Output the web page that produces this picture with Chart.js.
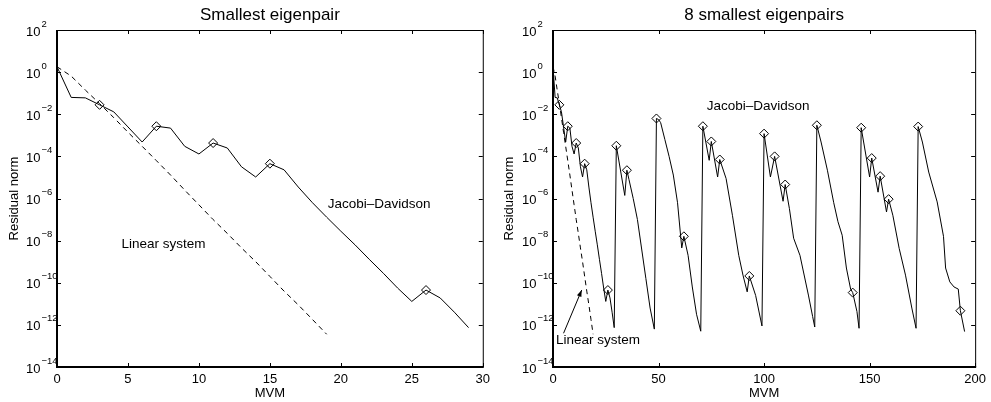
<!DOCTYPE html>
<html lang="en">
<head>
<meta charset="UTF-8">
<title>Residual norm vs MVM</title>
<style>
  body { margin: 0; background: #fff; }
  .panel { position: absolute; top: 0; height: 402px; }
  #left { left: 0; width: 495px; }
  #right { left: 495px; width: 496px; }
</style>
</head>
<body>
<div class="panel" id="left"><canvas id="c1" width="495" height="402"></canvas></div>
<div class="panel" id="right"><canvas id="c2" width="496" height="402"></canvas></div>

<script src="https://cdn.jsdelivr.net/npm/chart.js"></script>
<script>
// --- data ---
// first eigenpair, Jacobi-Davidson (MVM 0..29)
const mvmFirst = [0, 1, 2, 3, 4, 5, 6, 7, 8, 9, 10, 11, 12, 13, 14, 15, 16, 17, 18, 19,
                  20, 21, 22, 23, 24, 25, 26, 27, 28, 29];
const jdFirst = [1.8, 6.3e-2, 6.0e-2, 2.8e-2, 1.3e-2, 2.5e-3, 4.8e-4, 2.7e-3, 2.2e-3, 3.0e-4,
                 1.3e-4, 4.3e-4, 2.5e-4, 3.2e-5, 1.05e-5, 4.5e-5, 2.3e-5, 3.5e-6, 6.3e-7, 1.3e-7,
                 2.8e-8, 6.3e-9, 1.3e-9, 2.8e-10, 5.6e-11, 1.3e-11, 4.5e-11, 1.9e-11, 4.0e-12, 7.4e-13];
const firstMarkers = [3, 7, 11, 15, 26];

// linear system (dashed)
const mvmLinear = [0, 1, 2, 3, 4, 5, 6, 7, 8, 9, 10, 11, 12, 13, 14, 15, 16, 17, 18, 19];
const linearSystem = [1.8, 6.5e-1, 1.4e-1, 3.2e-2, 6.9e-3, 1.4e-3, 3.0e-4, 6.3e-5, 1.3e-5, 2.5e-6,
                      5.0e-7, 1.0e-7, 2.2e-8, 4.5e-9, 1.0e-9, 2.0e-10, 4.0e-11, 8.9e-12, 1.8e-12, 3.6e-13];

// remaining 7 eigenpairs (continues after MVM 29)
const mvmRest = [30, 34, 35, 36, 38, 40, 42, 44, 46, 48,
                 49, 50, 51, 53, 55, 57, 59, 61, 62, 64,
                 66, 68, 70, 71, 74, 75, 78, 79, 82, 85,
                 88, 90, 92, 93, 96, 99, 100, 103, 105, 109,
                 110, 112, 114, 117, 121, 123, 124, 125, 127, 130,
                 133, 135, 137, 139, 141, 142, 144, 145, 146, 150,
                 151, 154, 155, 158, 159, 161, 164, 167, 170, 172,
                 173, 175, 178, 182, 185, 186, 188, 190, 192, 193, 195];
const jdRest = [3.2e-4, 1.4e-6, 2.2e-5, 7.9e-6, 1.0e-6, 1.0e-7, 4.0e-9, 1.6e-10, 6.3e-12, 6.3e-13,
                6.3e-3, 5.6e-3, 4.0e-3, 6.3e-4, 1.0e-4, 1.3e-5, 6.3e-7, 4.5e-9, 1.6e-8, 2.0e-9,
                6.3e-11, 3.2e-12, 5.0e-13, 2.7e-3, 6.5e-5, 5.1e-4, 1.05e-5, 7.1e-5, 8.9e-6, 1.6e-7,
                2.0e-9, 2.3e-10, 3.7e-11, 2.1e-10, 2.5e-11, 8.9e-13, 1.2e-3, 1.05e-5, 1.0e-4, 7.4e-7,
                4.6e-6, 3.3e-7, 1.3e-8, 2.0e-9, 2.6e-11, 2.5e-12, 7.9e-13, 3.0e-3, 4.8e-4, 2.2e-5,
                6.3e-7, 7.9e-8, 1.8e-8, 5.0e-10, 5.0e-11, 3.4e-11, 4.3e-12, 6.9e-13, 2.3e-3, 1.05e-5,
                8.3e-5, 2.0e-6, 1.15e-5, 2.3e-7, 9.3e-7, 1.6e-7, 4.3e-9, 2.3e-10, 6.3e-12, 6.9e-13,
                2.6e-3, 4.8e-4, 1.8e-5, 6.9e-7, 1.6e-8, 5.0e-10, 1.1e-10, 6.3e-11, 5.0e-11, 4.7e-12, 4.8e-13];
const restMarkers = [30, 35, 49, 62, 71, 75, 79, 93, 100, 105, 110, 125, 142, 146, 151, 155, 159, 173, 193];

// axes
const yTickExp = [-14, -12, -10, -8, -6, -4, -2, 0, 2];
const xTicksLeft = [0, 5, 10, 15, 20, 25, 30];
const xTicksRight = [0, 50, 100, 150, 200];

const FONT = '"Liberation Sans", Arial, Helvetica, sans-serif';

function toPoints(xs, ys) {
    return xs.map((x, i) => ({x: x, y: ys[i]}));
}

// box, inward ticks, y labels with exponents, title and text notes
const framePlugin = {
    id: 'frame',
    afterDatasetsDraw(chart, args, o) {
        const {ctx, chartArea: a, scales: {x, y}} = chart;
        ctx.save();
        ctx.strokeStyle = '#000';
        ctx.fillStyle = '#000';

        ctx.lineWidth = 1;
        ctx.beginPath();
        ctx.moveTo(a.left, a.top + 0.5);
        ctx.lineTo(a.right + 0.5, a.top + 0.5);
        ctx.lineTo(a.right + 0.5, a.bottom);
        ctx.stroke();
        ctx.lineWidth = 2;
        ctx.beginPath();
        ctx.moveTo(a.left, a.top);
        ctx.lineTo(a.left, a.bottom);
        ctx.lineTo(a.right + 1, a.bottom);
        ctx.stroke();

        ctx.lineWidth = 1;
        ctx.beginPath();
        o.xTicks.forEach(v => {
            const px = Math.round(x.getPixelForValue(v)) + 0.5;
            ctx.moveTo(px, a.top); ctx.lineTo(px, a.top + 4);
            ctx.moveTo(px, a.bottom); ctx.lineTo(px, a.bottom - 4);
        });
        yTickExp.forEach(e => {
            const py = Math.round(y.getPixelForValue(Math.pow(10, e))) + 0.5;
            ctx.moveTo(a.left, py); ctx.lineTo(a.left + 4, py);
            ctx.moveTo(a.right, py); ctx.lineTo(a.right - 4, py);
        });
        ctx.stroke();

        // y tick labels: 10 with raised exponent
        ctx.textBaseline = 'alphabetic';
        ctx.textAlign = 'left';
        yTickExp.forEach(e => {
            const py = y.getPixelForValue(Math.pow(10, e));
            const x0 = a.left - 31;
            ctx.font = '13px ' + FONT;
            ctx.fillText('10', x0, py + 5.5);
            const w = ctx.measureText('10').width;
            ctx.font = '9.5px ' + FONT;
            ctx.fillText(String(e).replace('-', '\u2212'), x0 + w + 1, py - 3.5);
        });

        // title
        ctx.font = '17px ' + FONT;
        ctx.textAlign = 'center';
        ctx.fillText(o.title, (a.left + a.right) / 2, 20);

        // notes inside the plot
        ctx.font = '13.5px ' + FONT;
        ctx.textBaseline = 'middle';
        o.notes.forEach(n => {
            ctx.fillText(n.text, x.getPixelForValue(n.x), y.getPixelForValue(n.y));
        });

        if (o.arrow) {
            const x1 = x.getPixelForValue(o.arrow.from[0]), y1 = y.getPixelForValue(o.arrow.from[1]);
            const x2 = x.getPixelForValue(o.arrow.to[0]), y2 = y.getPixelForValue(o.arrow.to[1]);
            const ang = Math.atan2(y2 - y1, x2 - x1);
            ctx.beginPath();
            ctx.moveTo(x1, y1);
            ctx.lineTo(x2, y2);
            ctx.stroke();
            ctx.beginPath();
            ctx.moveTo(x2, y2);
            ctx.lineTo(x2 - 7 * Math.cos(ang - 0.35), y2 - 7 * Math.sin(ang - 0.35));
            ctx.lineTo(x2 - 7 * Math.cos(ang + 0.35), y2 - 7 * Math.sin(ang + 0.35));
            ctx.closePath();
            ctx.fill();
        }
        ctx.restore();
    }
};

function makeChart(id, cfg) {
    const markers = cfg.markers;
    new Chart(document.getElementById(id), {
        type: 'line',
        data: {
            datasets: [{
                data: cfg.jd,
                borderColor: '#000',
                borderWidth: 1,
                tension: 0,
                pointStyle: 'rectRot',
                pointRadius: c => (c.raw && markers.includes(c.raw.x)) ? 4.5 : 0,
                pointBorderColor: '#000',
                pointBackgroundColor: 'rgba(0,0,0,0)',
                pointBorderWidth: 1
            }, {
                data: cfg.linear,
                borderColor: '#000',
                borderWidth: 1,
                borderDash: [5, 4],
                tension: 0,
                pointRadius: 0
            }]
        },
        options: {
            responsive: false,
            animation: false,
            devicePixelRatio: 1,
            layout: {padding: {top: 30, right: 12, bottom: 0, left: 0}},
            plugins: {
                legend: {display: false},
                tooltip: {enabled: false},
                frame: {title: cfg.title, xTicks: cfg.xTicks, notes: cfg.notes, arrow: cfg.arrow}
            },
            scales: {
                x: {
                    type: 'linear',
                    min: 0,
                    max: cfg.xMax,
                    afterBuildTicks: s => { s.ticks = cfg.xTicks.map(v => ({value: v})); },
                    afterFit: s => { s.height = 35; },
                    ticks: {color: '#000', font: {family: FONT, size: 13}, padding: 5, maxRotation: 0, autoSkip: false},
                    grid: {display: false, drawTicks: false},
                    border: {display: false},
                    title: {display: true, text: 'MVM', color: '#000', font: {family: FONT, size: 13},
                            padding: {top: 0, bottom: 1}}
                },
                y: {
                    type: 'logarithmic',
                    min: 1e-14,
                    max: 1e2,
                    afterFit: s => { s.width = cfg.yWidth; },
                    ticks: {display: false},
                    grid: {display: false, drawTicks: false},
                    border: {display: false},
                    title: {display: true, text: 'Residual norm', color: '#000', font: {family: FONT, size: 13},
                            padding: {top: 7, bottom: 0}}
                }
            }
        },
        plugins: [framePlugin]
    });
}

makeChart('c1', {
    title: 'Smallest eigenpair',
    jd: toPoints(mvmFirst, jdFirst),
    linear: toPoints(mvmLinear, linearSystem),
    markers: firstMarkers,
    xMax: 30,
    xTicks: xTicksLeft,
    yWidth: 57,
    notes: [
        {text: 'Jacobi\u2013Davidson', x: 22.7, y: 5.1e-7},
        {text: 'Linear system', x: 7.5, y: 6.9e-9}
    ]
});

makeChart('c2', {
    title: '8 smallest eigenpairs',
    jd: toPoints(mvmFirst.concat(mvmRest), jdFirst.concat(jdRest)),
    linear: toPoints(mvmLinear, linearSystem),
    markers: firstMarkers.concat(restMarkers),
    xMax: 200,
    xTicks: xTicksRight,
    yWidth: 58,
    notes: [
        {text: 'Jacobi\u2013Davidson', x: 97.2, y: 2.3e-2},
        {text: 'Linear system', x: 21.3, y: 1.9e-13}
    ],
    arrow: {from: [5, 4.0e-13], to: [13.6, 4.5e-11]}
});
</script>
</body>
</html>
